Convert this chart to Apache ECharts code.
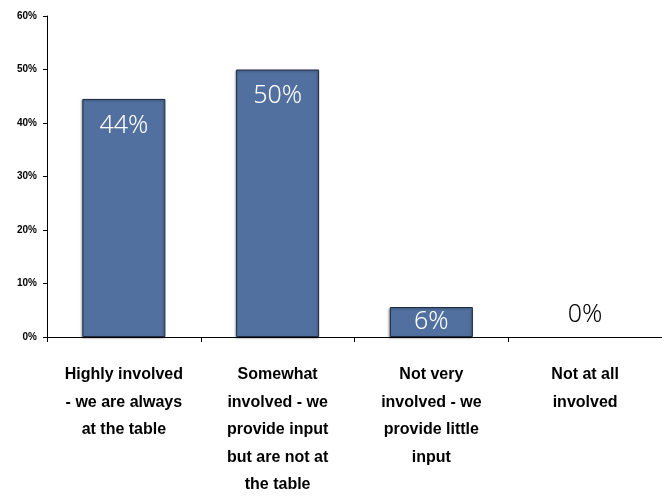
<!DOCTYPE html>
<html><head><meta charset="utf-8">
<script src="https://cdn.jsdelivr.net/npm/echarts@6/dist/echarts.min.js"></script>
<style>html,body{margin:0;padding:0;background:#fff}#c{width:662px;height:504px}</style>
</head><body><div id="c"></div>
<script>
const categories = [
  "Highly involved\n- we are always\nat the table",
  "Somewhat\ninvolved - we\nprovide input\nbut are not at\nthe table",
  "Not very\ninvolved - we\nprovide little\ninput",
  "Not at all\ninvolved"
];
const values = [44.5, 50, 5.6, 0];
const valueLabels = ["44%", "50%", "6%", "0%"];
const yTicks = [0, 10, 20, 30, 40, 50, 60];

const narrow = "'Liberation Sans',Arial,sans-serif";
const pctFont = "'Noto Sans','DejaVu Sans',sans-serif";

const data = values.map((v, i) => {
  const base = {show: true, fontSize: 25, fontFamily: pctFont, fontWeight: 300, formatter: valueLabels[i]};
  let label;
  if (v === 0) {
    label = Object.assign({}, base, {position: 'top', distance: 10, color: '#000'});
  } else if (v < 10) {
    label = Object.assign({}, base, {position: 'inside', color: '#fff'});
  } else {
    label = Object.assign({}, base, {position: 'insideTop', distance: 14, color: '#fff'});
  }
  const item = {value: v, label};
  if (v === 0) item.itemStyle = {color: 'rgba(0,0,0,0)', borderWidth: 0, shadowBlur: 0, shadowOffsetX: 0, shadowOffsetY: 0, shadowColor: 'rgba(0,0,0,0)'};
  return item;
});

const chart = echarts.init(document.getElementById('c'));
chart.setOption({
  animation: false,
  grid: {left: 47, right: 0, top: 16, bottom: 167},
  xAxis: {
    type: 'category',
    data: categories,
    axisLine: {lineStyle: {color: '#000', width: 1}},
    axisTick: {show: true, length: 5, lineStyle: {color: '#000'}},
    axisLabel: {
      interval: 0, margin: 24, color: '#000', fontSize: 16, fontWeight: 'bold',
      fontFamily: narrow, lineHeight: 27.5
    }
  },
  yAxis: {
    type: 'value', min: 0, max: 60, interval: 10,
    axisLine: {show: true, lineStyle: {color: '#000', width: 1}},
    axisTick: {show: true, length: 4, lineStyle: {color: '#000'}},
    splitLine: {show: false},
    axisLabel: {
      margin: 10, color: '#000', fontSize: 10, fontWeight: 'bold', fontFamily: narrow,
      formatter: v => yTicks.includes(v) ? v + '%' : ''
    }
  },
  series: [{
    type: 'bar',
    data: data,
    barWidth: '54%',
    itemStyle: {color: '#52709f', borderColor: '#1e2b45', borderWidth: 1,
      shadowColor: 'rgba(0,0,0,0.35)', shadowBlur: 2, shadowOffsetX: -1, shadowOffsetY: 1}
  }]
});
</script></body></html>
